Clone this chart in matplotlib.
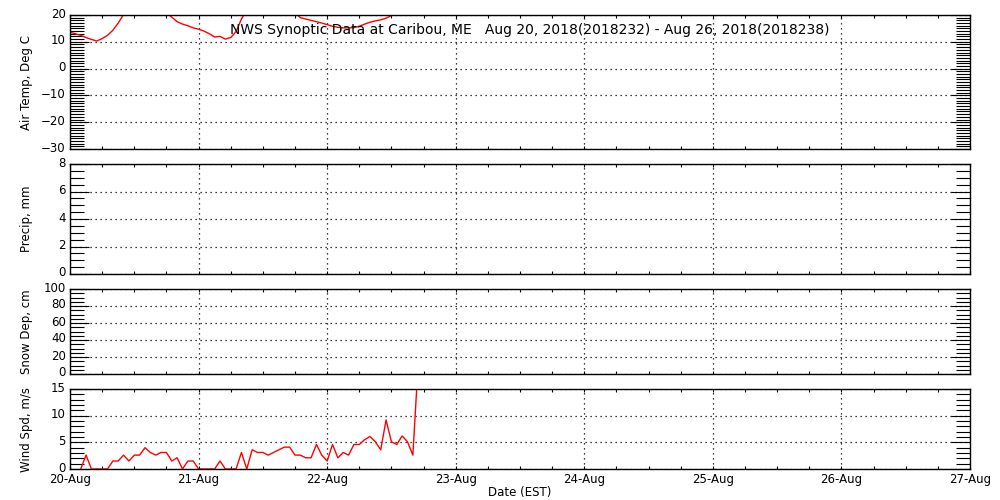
import matplotlib
matplotlib.use("Agg")
import matplotlib.pyplot as plt
import matplotlib.transforms as mtransforms
from matplotlib.ticker import MultipleLocator

# ---------------- data ----------------
day_labels = ["20-Aug", "21-Aug", "22-Aug", "23-Aug", "24-Aug", "25-Aug", "26-Aug", "27-Aug"]

temp_hours = list(range(0, 66))
temp_c = [13.6, 13.0, 12.4, 11.6, 10.9, 10.3, 11.2, 12.4, 14.3, 17.0,
          20.2, 22.5, 24.0, 25.0, 25.5, 25.0, 24.0, 22.5, 20.8, 19.2,
          17.5, 16.6, 16.0, 15.2, 14.7, 14.0, 13.0, 11.8, 12.0, 11.0,
          11.6, 13.8, 18.5, 22.0, 24.0, 25.5, 26.5, 27.0, 26.5, 25.5,
          24.0, 22.5, 20.8, 19.0, 18.5, 18.0, 17.5, 17.0, 16.4, 15.8,
          15.4, 15.2, 15.2, 15.3, 15.8, 16.6, 17.3, 17.8, 18.2, 18.8,
          19.8, 21.0, 22.5, 23.5, 24.5, 25.0]

precip_hours = []
precip_mm = []

snow_hours = []
snow_cm = []

wind_hours = list(range(2, 66))
wind_ms = [0.0, 2.6, 0.0, 0.0, 0.0, 0.0, 1.5, 1.5, 2.6, 1.5,
           2.6, 2.6, 4.0, 3.1, 2.6, 3.1, 3.1, 1.5, 2.1, 0.0,
           1.5, 1.5, 0.0, 0.0, 0.0, 0.0, 1.5, 0.0, 0.0, 0.0,
           3.1, 0.0, 3.6, 3.1, 3.1, 2.6, 3.1, 3.6, 4.1, 4.1,
           2.6, 2.6, 2.1, 2.1, 4.6, 2.6, 1.5, 4.6, 2.1, 3.1,
           2.6, 4.6, 4.6, 5.5, 6.1, 5.1, 3.6, 9.2, 5.1, 4.6,
           6.2, 5.1, 2.6, 20.0]

title = "NWS Synoptic Data at Caribou, ME   Aug 20, 2018(2018232) - Aug 26, 2018(2018238)"

# ---------------- figure ----------------
plt.rcParams['font.family'] = ['DejaVu Sans']
fig = plt.figure(figsize=(10, 5), dpi=100)

W, H = 1000.0, 500.0
left, right = 70, 970

def make_ax(top, bottom):
    return fig.add_axes([left / W, 1 - bottom / H, (right - left) / W, (bottom - top) / H])

panels = [
    (15, 149, (-30, 20), 10, 1, "Air Temp, Deg C", temp_hours, temp_c),
    (164, 274, (0, 8), 2, 0.5, "Precip, mm", precip_hours, precip_mm),
    (289, 374, (0, 100), 20, 5, "Snow Dep, cm", snow_hours, snow_cm),
    (389, 469, (0, 15), 5, 1, "Wind Spd, m/s", wind_hours, wind_ms),
]

up_shift = mtransforms.ScaledTranslation(0, 2.5 / 100.0, fig.dpi_scale_trans)

axes = []
for i, (top, bot, ylim, maj, mnr, lab, xs, ys) in enumerate(panels):
    ax = make_ax(top, bot)
    if len(xs):
        ax.plot(xs, ys, color='red', lw=1.0, zorder=2)
    ax.set_xlim(0, 168)
    ax.set_ylim(*ylim)
    ax.yaxis.set_major_locator(MultipleLocator(maj))
    ax.yaxis.set_minor_locator(MultipleLocator(mnr))
    ax.xaxis.set_major_locator(MultipleLocator(24))
    ax.xaxis.set_minor_locator(MultipleLocator(6))
    ax.tick_params(axis='y', which='major', direction='in', length=13.5, width=0.8,
                   left=True, right=True, labelsize=8.5, pad=3)
    ax.tick_params(axis='y', which='minor', direction='in', length=10, width=0.8,
                   left=True, right=True)
    ax.tick_params(axis='x', which='major', direction='in', length=2.5, width=0.8,
                   top=True, bottom=True, labelsize=8.5, pad=3)
    ax.tick_params(axis='x', which='minor', direction='in', length=2.5, width=0.8,
                   top=True, bottom=True)
    ax.grid(True, which='major', color='black', linestyle=(0, (1, 3)), lw=0.9)
    for s in ax.spines.values():
        s.set_linewidth(1.0)
    ax.set_ylabel(lab, fontsize=8.5)
    ax.yaxis.set_label_coords(-0.041, 0.5)
    if i < 3:
        ax.set_xticklabels([])
    else:
        ax.set_xticks(range(0, 169, 24))
        ax.set_xticklabels(day_labels)
        ax.set_xlabel("Date (EST)", fontsize=8.5, labelpad=0)
    for lbl in ax.get_yticklabels():
        lbl.set_transform(lbl.get_transform() + up_shift)
    axes.append(ax)

fig.text(530 / W, 1 - 30 / H, title, ha='center', va='center', fontsize=10)

fig.savefig("out.png", dpi=100)
